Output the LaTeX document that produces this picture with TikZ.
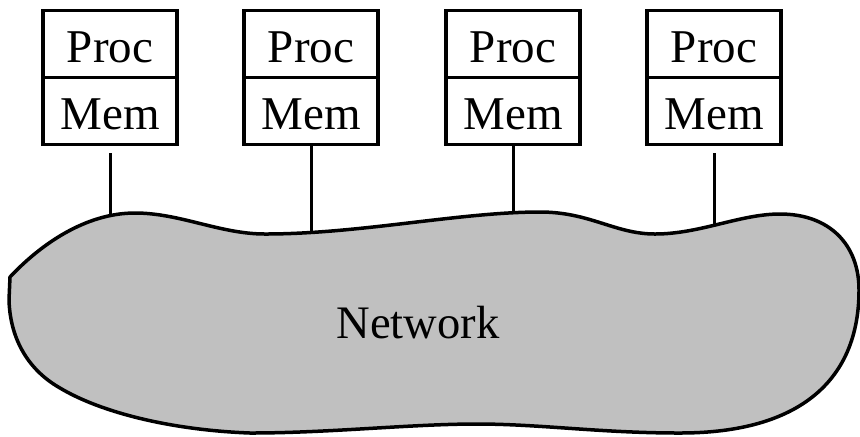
\documentclass[tikz,border=0pt]{standalone}
\usepackage{fontspec}
\setmainfont{Liberation Serif}
\definecolor{netgray}{RGB}{192,192,192}
\begin{document}
\begin{tikzpicture}[x=0.5pt,y=-0.5pt,
  cell/.style={draw, line width=1.65pt, minimum width=67pt, minimum height=33.5pt,
    inner sep=0pt, font=\fontsize{23.5pt}{28pt}\selectfont, text height=18.8pt, text depth=0pt},
  link/.style={line width=1.5pt},
  cloud/.style={fill=netgray, draw, line width=1.75pt, line join=round},
  label/.style={font=\fontsize{23.3pt}{28pt}\selectfont, anchor=base, inner sep=0pt}]
\useasboundingbox (0,0) rectangle (860,436);

% processor / memory stacks
\node[cell] (p1) at (110,44) {Proc};
\node[cell] (m1) at (110,111) {Mem};
\node[cell] (p2) at (311,44) {Proc};
\node[cell] (m2) at (311,111) {Mem};
\node[cell] (p3) at (513,44) {Proc};
\node[cell] (m3) at (513,111) {Mem};
\node[cell] (p4) at (714,44) {Proc};
\node[cell] (m4) at (714,111) {Mem};

% attachment points just inside the network outline
\coordinate (t1) at (110,224);
\coordinate (t2) at (311,242);
\coordinate (t3) at (513,222);
\coordinate (t4) at (714,232);

% links from each memory to the network
\draw[link] ([yshift=-3.5pt]m1.south) -- (t1);
\draw[link] (m2.south) -- (t2);
\draw[link] (m3.south) -- (t3);
\draw[link] ([yshift=-3.5pt]m4.south) -- (t4);

% the network cloud
\draw[cloud] (10,277)
  .. controls (40,245) and (85,213) .. (135,213)
  .. controls (180,213) and (220,234) .. (265,234)
  .. controls (360,234) and (460,212) .. (540,212)
  .. controls (590,212) and (615,234) .. (655,234)
  .. controls (700,234) and (740,214) .. (780,214)
  .. controls (830,214) and (859,245) .. (859,290)
  .. controls (859,380) and (800,433) .. (680,433)
  .. controls (600,433) and (540,424) .. (477,424)
  .. controls (410,424) and (330,433) .. (250,433)
  .. controls (170,430) and (100,412) .. (60,388)
  .. controls (25,368) and (10,335) .. (9,300)
  -- cycle;

\node[label] (net) at (418,338) {Network};
\end{tikzpicture}
\end{document}
